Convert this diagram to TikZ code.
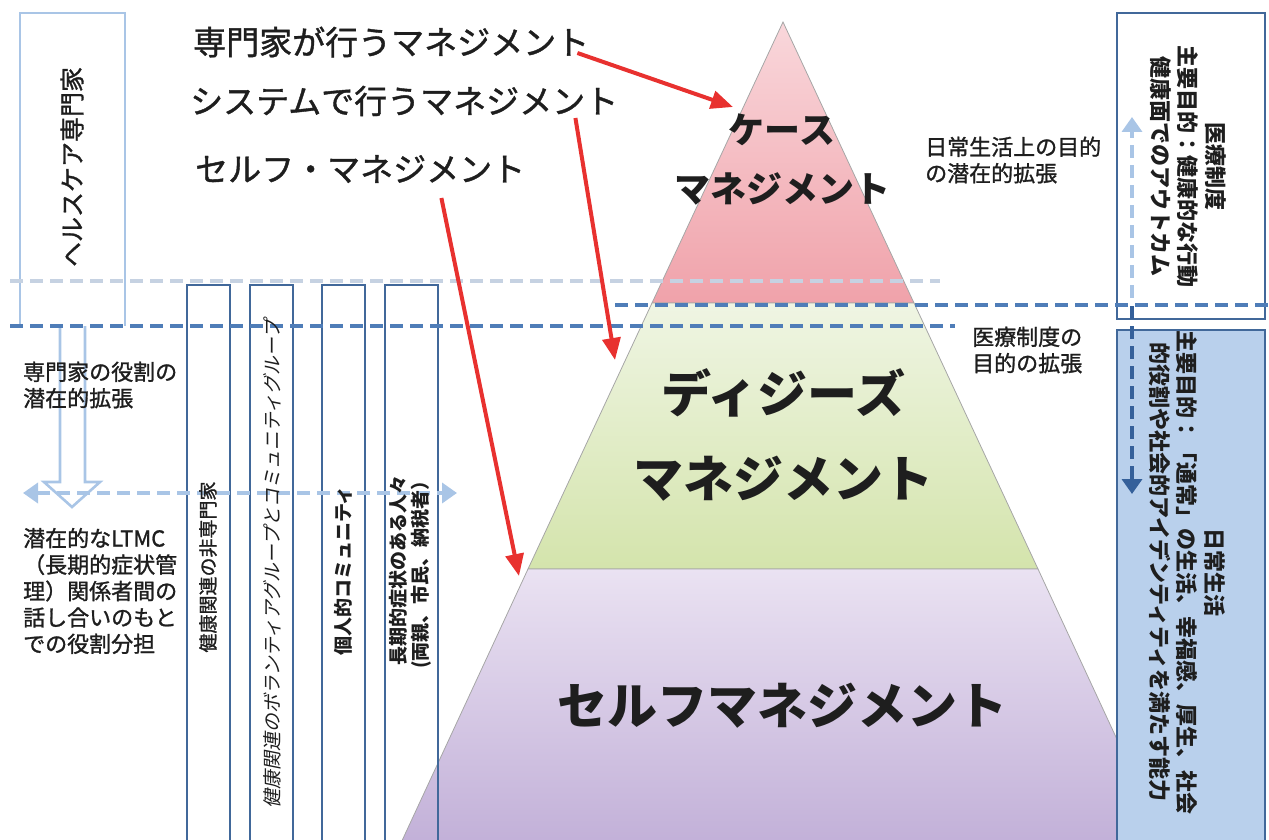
\documentclass[tikz,border=0pt]{standalone}
\usepackage{fontspec}
\setmainfont{Noto Sans CJK JP}
\newfontfamily\medjp[FakeBold=1.2]{Noto Sans CJK JP}
\newfontfamily\slantjp[FakeSlant=0.2]{Noto Sans CJK JP}
\usetikzlibrary{arrows.meta}
\definecolor{lineBlue}{HTML}{4F7DB8}
\definecolor{downBlue}{HTML}{35609A}
\definecolor{paleBlue}{HTML}{C6D2E2}
\definecolor{lightBlue}{HTML}{A9C5E6}
\definecolor{boxBlue}{HTML}{41689A}
\definecolor{fillBlue}{HTML}{B9D0EC}
\definecolor{arrowRed}{HTML}{E8312F}
\definecolor{caseTop}{HTML}{F9D7DB}
\definecolor{caseBot}{HTML}{F0A2AA}
\definecolor{diseaseTop}{HTML}{EFF5E3}
\definecolor{diseaseBot}{HTML}{D4E4AC}
\definecolor{selfTop}{HTML}{EAE2F2}
\definecolor{selfBot}{HTML}{C2B0D8}
\definecolor{inkDark}{HTML}{1E1E1E}
\begin{document}
\begin{tikzpicture}[x=1pt,y=-1pt,
  dashline/.style={line width=3.6pt,dash pattern=on 13pt off 7pt},
  colbox/.style={draw=boxBlue,line width=2.4pt},
  redarrow/.style={draw=arrowRed,line width=4pt,-{Triangle[length=22pt,width=18pt]}},
  toplabel/.style={anchor=west,inner sep=0pt,text=inkDark,font=\medjp\fontsize{33}{38}\selectfont},
  sidetext/.style={anchor=west,align=left,inner sep=0pt,text=inkDark,font=\medjp\fontsize{22}{26.4}\selectfont},
  coltext/.style={inner sep=0pt,text=inkDark,align=center,font=\medjp\fontsize{19}{22}\selectfont},
  boxtext/.style={inner sep=0pt,text=inkDark,align=center,rotate=-90,font=\bfseries\fontsize{22}{27.5}\selectfont},
  pyrtext/.style={inner sep=0pt,text=inkDark,align=center}]
\useasboundingbox (0,0) rectangle (1269,840);
\clip (0,0) rectangle (1269,840);

\shade[top color=caseTop,bottom color=caseBot,draw=gray!70,line width=0.8pt] (783,22) -- (914,303) -- (652,303) -- cycle;
\shade[top color=diseaseTop,bottom color=diseaseBot,draw=gray!70,line width=0.8pt] (652,303) -- (914,303) -- (1038,569) -- (528,569) -- cycle;
\shade[top color=selfTop,bottom color=selfBot,draw=gray!70,line width=0.8pt] (528,569) -- (1038,569) -- (1166,845) -- (400,845) -- cycle;

\draw[lightBlue,line width=2.6pt] (20,326) -- (20,13) -- (125,13) -- (125,326);
\draw[lightBlue,line width=2.6pt] (60,326) -- (60,482) -- (44,482) -- (72,507) -- (100,482) -- (85,482) -- (85,326);

\foreach \xl/\xr in {187/230,250/293,322/365,385/438}
  \draw[colbox] (\xl,850) -- (\xl,285) -- (\xr,285) -- (\xr,850);

\draw[boxBlue,line width=2.4pt] (1117,13) rectangle (1265,319);
\filldraw[fill=fillBlue,draw=boxBlue,line width=2.4pt] (1117,330) rectangle (1265,850);

\draw[dashline,paleBlue] (10,281) -- (940,281);
\draw[dashline,lineBlue] (615,305) -- (1275,305);
\draw[dashline,lineBlue] (10,326) -- (955,326);

\coordinate (lmtcLeft) at (23,493);
\coordinate (lmtcRight) at (457,493);
\draw[dashline,lightBlue,{Triangle[length=15pt,width=20pt]}-{Triangle[length=15pt,width=20pt]}] (lmtcLeft) -- (lmtcRight);
\coordinate (upFoot) at (1132,298);
\coordinate (upHead) at (1132,117);
\draw[dashline,lightBlue,-{Triangle[length=15pt,width=20pt]}] (upFoot) -- (upHead);
\coordinate (downFoot) at (1132,306);
\coordinate (downHead) at (1132,494);
\draw[dashline,downBlue,-{Triangle[length=15pt,width=20pt]}] (downFoot) -- (downHead);

\node[toplabel] (lblPro) at (193,42) {専門家が行うマネジメント};
\node[toplabel] (lblSys) at (190,101) {システムで行うマネジメント};
\node[toplabel] (lblSelf) at (195,169) {セルフ・マネジメント};

\node[pyrtext,font=\bfseries\fontsize{36}{59}\selectfont] (caseLbl) at (782,160) {ケース\\マネジメント};
\node[pyrtext,font=\bfseries\fontsize{50}{85}\selectfont] (diseaseLbl) at (783,435) {ディジーズ\\マネジメント};
\node[pyrtext,font=\bfseries\fontsize{50}{60}\selectfont] (selfLbl) at (782,706) {セルフマネジメント};

\node[coltext,rotate=90,font=\medjp\fontsize{25}{30}\selectfont] (proBox) at (72,167) {ヘルスケア専門家};
\node[sidetext] (proRole) at (23,385) {専門家の役割の\\潜在的拡張};
\node[sidetext] (ltmc) at (23,591) {潜在的なLTMC\\（長期的症状管\\理）関係者間の\\話し合いのもと\\での役割分担};
\node[sidetext] (dailyAim) at (925,160) {日常生活上の目的\\の潜在的拡張};
\node[sidetext] (careAim) at (972,350) {医療制度の\\目的の拡張};

\node[coltext,rotate=90] (layCol) at (208,567) {健康関連の非専門家};
\node[coltext,rotate=90,font=\slantjp\fontsize{19}{22}\selectfont] (volCol) at (272,564) {健康関連のボランティアグループとコミュニティグループ};
\node[coltext,rotate=90,font=\bfseries\fontsize{19}{22}\selectfont] (commCol) at (343,571) {個人的コミュニティ};
\node[coltext,rotate=90,font=\bfseries\fontsize{19}{22}\selectfont] (patCol) at (410,570) {長期的症状のある人々\\(両親、市民、納税者）};

\node[boxtext] (healthAim) at (1188,167) {医療制度\\主要目的：健康的な行動\\健康面でのアウトカム};
\node[boxtext] (lifeAim) at (1187,572) {日常生活\\主要目的：「通常」の生活、幸福感、厚生、社会\\的役割や社会的アイデンティティを満たす能力};

\coordinate (caseTip) at (733,107);
\coordinate (diseaseTip) at (615,360);
\coordinate (selfTip) at (519,576);
\draw[redarrow] ([xshift=-12pt,yshift=-11pt]lblPro.east) -- (caseTip);
\draw[redarrow] ([xshift=-43pt,yshift=-17pt]lblSys.east) -- (diseaseTip);
\draw[redarrow] ([xshift=-84pt,yshift=-29pt]lblSelf.east) -- (selfTip);
\end{tikzpicture}
\end{document}
